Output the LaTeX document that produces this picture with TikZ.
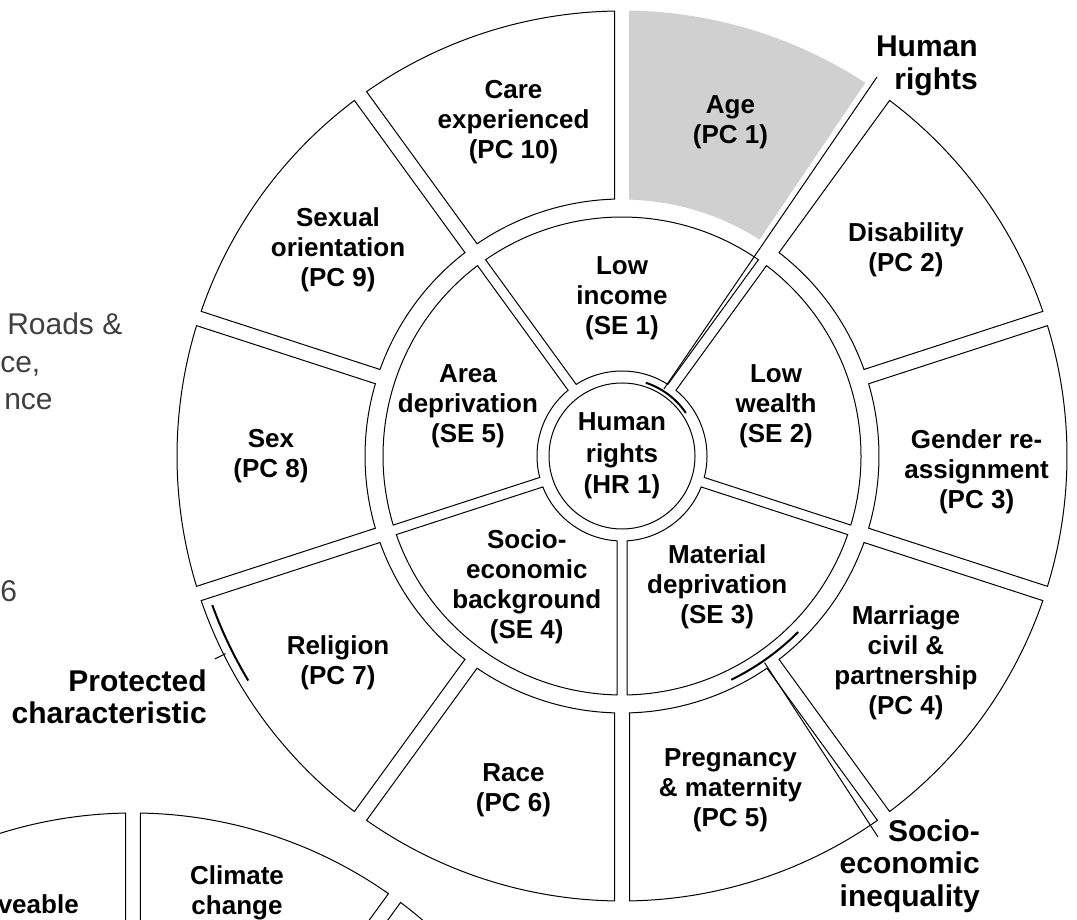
\documentclass[tikz,border=0pt]{standalone}
\usepackage{fontspec}
\setmainfont{Liberation Sans}

\definecolor{agegray}{RGB}{208,208,208}
\definecolor{cutgray}{RGB}{64,64,64}

\tikzset{
  seg/.style={draw=black, line width=0.75pt, fill=white},
  agebox/.style={draw=agegray, line width=0.75pt, fill=agegray},
  seglabel/.style={font=\bfseries\fontsize{19.5}{22.5}\selectfont, align=center, inner sep=0pt},
  taglabel/.style={font=\bfseries\fontsize{22.5}{24.4}\selectfont, align=right, inner sep=0pt, anchor=east},
  cuttext/.style={font=\fontsize{22.5}{28}\selectfont, text=cutgray, inner sep=0pt, anchor=base west},
  bracket/.style={line width=1.5pt},
  pointer/.style={line width=0.75pt}
}

% ring piece: style, from angle, to angle, inner r, outer r, half gap
\newcommand{\ringseg}[6]{%
  \pgfmathsetmacro{\sgAi}{#3+asin(#6/#4)}%
  \pgfmathsetmacro{\sgBi}{#2-asin(#6/#4)}%
  \pgfmathsetmacro{\sgAo}{#3+asin(#6/#5)}%
  \pgfmathsetmacro{\sgBo}{#2-asin(#6/#5)}%
  \draw[#1] (\sgAo:#5) arc[start angle=\sgAo, end angle=\sgBo, radius=#5]
    -- (\sgBi:#4) arc[start angle=\sgBi, end angle=\sgAi, radius=#4] -- cycle;
}

\begin{document}
\begin{tikzpicture}[x=0.75pt, y=0.75pt]
\useasboundingbox (0,0) rectangle (1077,920);
\coordinate (hub) at (622,464);
\coordinate (hub2) at (133,-338);

% what is left of the panel on the left
\node[cuttext] (roads) at (7,585) {Roads \&};
\node[cuttext] (ce) at (0,547) {ce,};
\node[cuttext] (nce) at (4,510) {nce};
\node[cuttext] (six) at (0,318) {6};

% the wheel below, only its top shows
\begin{scope}[shift={(hub2)}]
  \ringseg{seg}{126}{90}{257}{445}{7.5}
  \ringseg{seg}{90}{54}{257}{445}{7.5}
  \ringseg{seg}{54}{18}{257}{445}{7.5}
\end{scope}
\node[seglabel, anchor=base east] (veable) at (79,6) {veable};
\node[seglabel] (climate) at (237,27) {Climate\\change};

% main wheel
\begin{scope}[shift={(hub)}]
  % protected characteristics
  \foreach \a/\e/\s in {90/56/agebox, 54/18/seg, 18/-18/seg, -18/-54/seg, -54/-90/seg,
      -90/-126/seg, -126/-162/seg, -162/-198/seg, 162/126/seg, 126/90/seg}
    {\ringseg{\s}{\a}{\e}{257}{445}{7.5}}
  % socio-economic ring
  \foreach \a in {126,54,-18,-90,-162}
    {\pgfmathsetmacro{\segend}{\a-72}\ringseg{seg}{\a}{\segend}{85}{239}{5}}
  \draw[seg] (0,0) circle[radius=73];

  \node[seglabel, font=\bfseries\fontsize{19.5}{23.5}\selectfont] (hr1) at (0,0) {Human\\rights\\(HR 1)};
  \foreach \ang/\rad/\nm/\txt in {
      72/351/pc1/{Age\\(PC 1)},
      36/351/pc2/{Disability\\(PC 2)},
      -2.6/355/pc3/{Gender re-\\assignment\\(PC 3)},
      -36/351/pc4/{Marriage\\civil \&\\partnership\\(PC 4)},
      -72/351/pc5/{Pregnancy\\\& maternity\\(PC 5)},
      -108/351/pc6/{Race\\(PC 6)},
      -144/351/pc7/{Religion\\(PC 7)},
      180/351/pc8/{Sex\\(PC 8)},
      144/351/pc9/{Sexual\\orientation\\(PC 9)},
      108/351/pc10/{Care\\experienced\\(PC 10)},
      90/158/se1/{Low\\income\\(SE 1)},
      18/162/se2/{Low\\wealth\\(SE 2)},
      -54/162/se3/{Material\\deprivation\\(SE 3)},
      -126/162/se4/{Socio-\\economic\\background\\(SE 4)},
      162/162/se5/{Area\\deprivation\\(SE 5)}}
    {\node[seglabel] (\nm) at (\ang:\rad) {\txt};}

  % brackets for the three groups
  \draw[bracket] (34:77) arc[start angle=34, end angle=72, radius=77];
  \draw[bracket] (-64:249) arc[start angle=-64, end angle=-45, radius=249];
  \draw[bracket] (-160:436) arc[start angle=-160, end angle=-149, radius=436];
  \draw[pointer] (-153.5:443) -- (-153.5:455);
  \coordinate (hrfoot) at (58:79);
  \coordinate (sefoot) at (-55.4:251);
\end{scope}

\node[taglabel] (hrtag) at (978,854) {Human\\rights};
\node[taglabel] (pctag) at (207,223) {Protected\\characteristic};
\node[taglabel] (setag) at (980,54) {Socio-\\economic\\inequality};
\coordinate (hrtip) at (877,843);
\coordinate (setip) at (878,83);
\draw[pointer] (hrfoot) -- (hrtip);
\draw[pointer] (sefoot) -- (setip);
\end{tikzpicture}
\end{document}
